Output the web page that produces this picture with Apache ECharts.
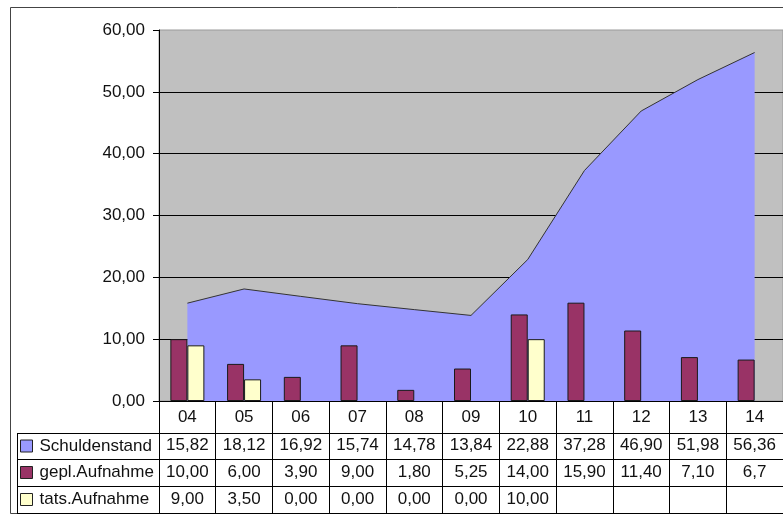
<!DOCTYPE html>
<html>
<head>
<meta charset="utf-8">
<script src="https://cdn.jsdelivr.net/npm/echarts@6/dist/echarts.min.js"></script>
<style>html,body{margin:0;padding:0;background:#fff;}#c{width:783px;height:515px;}</style>
</head>
<body>
<div id="c"></div>
<script>
const categories = ['04','05','06','07','08','09','10','11','12','13','14'];
const schuldenstand = [15.82,18.12,16.92,15.74,14.78,13.84,22.88,37.28,46.90,51.98,56.36];
const geplAufnahme = [10.00,6.00,3.90,9.00,1.80,5.25,14.00,15.90,11.40,7.10,6.7];
const tatsAufnahme = [9.00,3.50,0.00,0.00,0.00,0.00,10.00,null,null,null,null];
const geplDecimals = [2,2,2,2,2,2,2,2,2,2,1];
const seriesNames = ['Schuldenstand','gepl.Aufnahme','tats.Aufnahme'];
const yTicks = {min:0, max:60, interval:10};

const FONT = 'Liberation Sans, Arial, sans-serif';
const FS = 17;
const TXT = '#111';
function fmt(v, d){ if(v===null||v===undefined) return ''; return v.toFixed(d===undefined?2:d).replace('.',','); }
function barData(arr){ return arr.map(v => (v===0 ? {value:0, itemStyle:{borderWidth:0}} : v)); }

const chart = echarts.init(document.getElementById('c'), null, {renderer:'canvas'});

const GL = 159, GT = 30, GW = 630, GH = 371;
const rowOffsets = [32, 58, 85, 112];
const rowH = [32, 26, 27, 27];

function tableAxis(offset, len, labelFn, margin){
  return {
    type:'category', data:categories, position:'bottom', gridIndex:0, offset:offset,
    boundaryGap:true,
    axisLine:{show:true, lineStyle:{color:'#000', width:1}},
    axisTick:{show: len>0, interval:0, alignWithLabel:false, inside:false, length:len, lineStyle:{color:'#000', width:1}},
    axisLabel:{show: !!labelFn, interval:0, margin:margin, color:TXT, fontSize:FS, fontFamily:FONT,
      formatter: labelFn ? function(val, idx){ return labelFn(idx); } : undefined},
    splitLine:{show:false}
  };
}

const xAxes = [
  tableAxis(0, rowH[0], i => categories[i], 8),
  tableAxis(rowOffsets[0], rowH[1], i => fmt(schuldenstand[i]), 4),
  tableAxis(rowOffsets[1], rowH[2], i => fmt(geplAufnahme[i], geplDecimals[i]), 5),
  tableAxis(rowOffsets[2], rowH[3], i => fmt(tatsAufnahme[i]), 5),
  tableAxis(rowOffsets[3], 0, null, 0)
];

const rowLineYs = [GT+GH+rowOffsets[0], GT+GH+rowOffsets[1], GT+GH+rowOffsets[2], GT+GH+rowOffsets[3]];
const graphics = [
  {type:'rect', shape:{x:10.5, y:7.5, width:800, height:506}, style:{fill:'none', stroke:'#444', lineWidth:1}, silent:true, z:-1}
];
rowLineYs.forEach(y => graphics.push({type:'line', shape:{x1:17, y1:y+0.5, x2:GL, y2:y+0.5}, style:{stroke:'#000', lineWidth:1}, silent:true}));
graphics.push({type:'line', shape:{x1:17.5, y1:rowLineYs[0], x2:17.5, y2:rowLineYs[3]+1}, style:{stroke:'#000', lineWidth:1}, silent:true});

function legendFor(name, rowIdx){
  const top = (rowLineYs[rowIdx] + rowLineYs[rowIdx+1])/2 - 8.5;
  return {
    data:[name], orient:'horizontal', left:20, top:top, padding:0,
    icon:'rect', itemWidth:12, itemHeight:12, itemGap:6, selectedMode:false,
    itemStyle:{borderColor:'#222', borderWidth:1},
    textStyle:{fontSize:FS, color:TXT, fontFamily:FONT, padding:[0,0,0,2]}
  };
}

const option = {
  animation:false,
  backgroundColor:'#fff',
  textStyle:{fontFamily:FONT},
  grid:{left:GL, top:GT, width:GW, height:GH, show:true, backgroundColor:'#C0C0C0', borderColor:'#9a9a9a', borderWidth:1},
  legend:[legendFor(seriesNames[0],0), legendFor(seriesNames[1],1), legendFor(seriesNames[2],2)],
  xAxis:xAxes,
  yAxis:{
    type:'value', min:yTicks.min, max:yTicks.max, interval:yTicks.interval,
    axisLine:{show:true, lineStyle:{color:'#000', width:1}},
    axisTick:{show:true, length:6, lineStyle:{color:'#000'}},
    axisLabel:{margin:14, color:TXT, fontSize:FS, fontFamily:FONT, formatter:v => fmt(v)},
    splitLine:{show:true, showMaxLine:false, lineStyle:{color:'#000', width:1}}
  },
  graphic:graphics,
  series:[
    {name:seriesNames[0], type:'line', xAxisIndex:0, data:schuldenstand, symbol:'none',
      itemStyle:{color:'#9999FF'}, lineStyle:{color:'#333', width:1}, areaStyle:{color:'#9999FF', opacity:1}, z:1},
    {name:seriesNames[1], type:'bar', xAxisIndex:0, data:barData(geplAufnahme), barWidth:17, barGap:'0%',
      itemStyle:{color:'#993366', borderColor:'#1a1a1a', borderWidth:1}, z:3},
    {name:seriesNames[2], type:'bar', xAxisIndex:0, data:barData(tatsAufnahme), barWidth:17, barGap:'0%',
      itemStyle:{color:'#FFFFCC', borderColor:'#1a1a1a', borderWidth:1}, z:3}
  ]
};
chart.setOption(option);
</script>
</body>
</html>
